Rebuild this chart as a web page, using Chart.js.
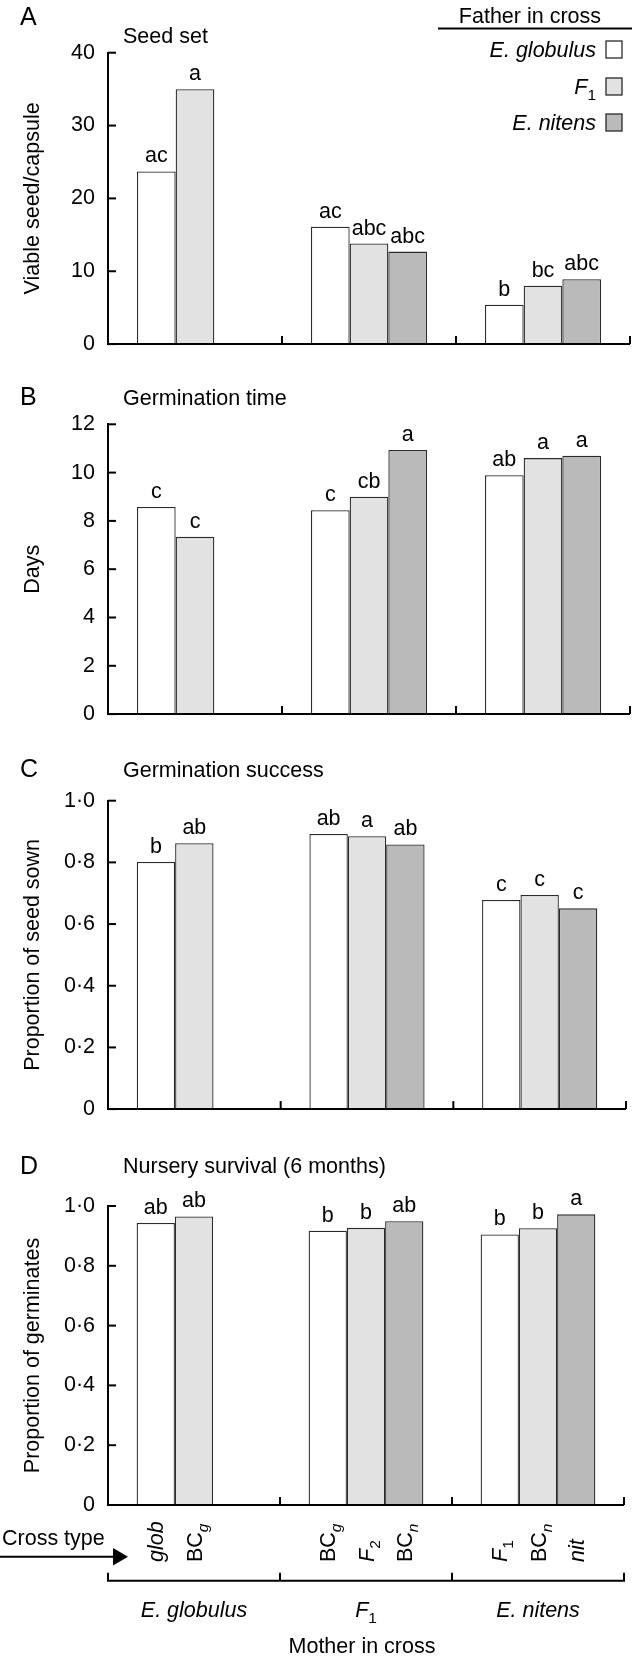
<!DOCTYPE html>
<html><head><meta charset="utf-8">
<script src="https://cdn.jsdelivr.net/npm/chart.js@4"></script>
<style>
html,body{margin:0;padding:0;background:#fff;}
#wrap{position:relative;width:633px;height:1660px;overflow:hidden;}
canvas{position:absolute;left:0;}
</style></head><body>
<div id="wrap">
<canvas id="cA" width="633" height="370" style="top:0px;width:633px;height:370px"></canvas>
<canvas id="cB" width="633" height="370" style="top:370px;width:633px;height:370px"></canvas>
<canvas id="cC" width="633" height="395" style="top:740px;width:633px;height:395px"></canvas>
<canvas id="cD" width="633" height="525" style="top:1135px;width:633px;height:525px"></canvas>
</div>
<script>
// ---------- DATA ----------
const motherLabels = ['E. globulus', 'F1', 'E. nitens'];
const fatherLabels = ['E. globulus', 'F1', 'E. nitens'];

// A: seed set (viable seed / capsule)
const seedSetGlob = [23.7, 16.1, 5.4];
const seedSetF1   = [35.0, 13.8, 8.0];
const seedSetNit  = [null, 12.7, 8.9];
const seedSetLetGlob = ['ac', 'ac', 'b'];
const seedSetLetF1   = ['a', 'abc', 'bc'];
const seedSetLetNit  = [null, 'abc', 'abc'];

// B: germination time (days)
const germTimeGlob = [8.58, 8.44, 9.89];
const germTimeF1   = [7.34, 9.0, 10.6];
const germTimeNit  = [null, 10.94, 10.7];
const germTimeLetGlob = ['c', 'c', 'ab'];
const germTimeLetF1   = ['c', 'cb', 'a'];
const germTimeLetNit  = [null, 'a', 'a'];

// C: germination success (proportion of seed sown)
const germSuccGlob = [0.801, 0.892, 0.678];
const germSuccF1   = [0.862, 0.885, 0.694];
const germSuccNit  = [null, 0.858, 0.651];
const germSuccLetGlob = ['b', 'ab', 'c'];
const germSuccLetF1   = ['ab', 'a', 'c'];
const germSuccLetNit  = [null, 'ab', 'c'];

// D: nursery survival (proportion of germinates)
const survGlob = [0.943, 0.917, 0.905];
const survF1   = [0.965, 0.927, 0.926];
const survNit  = [null, 0.949, 0.972];
const survLetGlob = ['ab', 'b', 'b'];
const survLetF1   = ['ab', 'b', 'b'];
const survLetNit  = [null, 'ab', 'a'];

// Cross-type tick labels (segments: [text, style]; i = italic, s = subscript)
const crossGlobFather = [[['glob','i']], [['BC',''],['g','is']], [['F','i'],['1','s']]];
const crossF1Father   = [[['BC',''],['g','is']], [['F','i'],['2','s']], [['BC',''],['n','is']]];
const crossNitFather  = [null, [['BC',''],['n','is']], [['nit','i']]];
const motherTickLabels = [[['E. globulus','i']], [['F','i'],['1','s']], [['E. nitens','i']]];
const legendLabels = [[['E. globulus','i']], [['F','i'],['1','s']], [['E. nitens','i']]];

const yTicksA = [0, 40, 10];
const yTicksB = [0, 12, 2];
const yTicksC = [0, 1, 0.2];
const yTicksD = [0, 1, 0.2];

// ---------- STYLE ----------
const FAM = "'Liberation Sans', Arial, Helvetica, sans-serif";
const FS = 21.5;
const fills = ['#ffffff', '#e2e2e2', '#bababa'];
const edge = '#2a2a2a';
function font(sz, it) { return (it ? 'italic ' : '') + sz + 'px ' + FAM; }

function richParts(ctx, segs, size) {
  return segs.map(([t, st]) => {
    const it = st.includes('i'), sub = st.includes('s');
    const sz = sub ? size * 0.72 : size;
    ctx.font = font(sz, it);
    return { t, it, sub, sz, w: ctx.measureText(t).width };
  });
}
function drawRich(ctx, segs, x, y, size, align) {
  const parts = richParts(ctx, segs, size);
  const total = parts.reduce((a, p) => a + p.w, 0);
  let cx = align === 'right' ? x - total : align === 'center' ? x - total / 2 : x;
  ctx.textAlign = 'left';
  ctx.textBaseline = 'alphabetic';
  for (const p of parts) {
    ctx.font = font(p.sz, p.it);
    ctx.fillText(p.t, cx, y + (p.sub ? size * 0.27 : 0));
    cx += p.w;
  }
}
function line(ctx, x1, y1, x2, y2) { ctx.beginPath(); ctx.moveTo(x1, y1); ctx.lineTo(x2, y2); ctx.stroke(); }

function decoPlugin(cfg) {
  return {
    id: 'deco' + cfg.letter,
    afterDatasetsDraw(chart) {
      const ctx = chart.ctx, ca = chart.chartArea;
      const xs = chart.scales.x, ys = chart.scales.y;
      ctx.save();
      ctx.strokeStyle = '#000'; ctx.fillStyle = '#000'; ctx.lineWidth = 2;
      // baseline
      line(ctx, ca.left - 1, ca.bottom, ca.right, ca.bottom);
      // category boundary ticks (upward)
      const n = chart.data.labels.length, w = (xs.right - xs.left) / n;
      for (let i = 1; i <= n; i++) { const x = xs.left + i * w; line(ctx, x, ca.bottom, x, ca.bottom - 8); }
      // y ticks (inward)
      ys.ticks.forEach(t => { const y = ys.getPixelForValue(t.value); line(ctx, ca.left, y, ca.left + 8, y); });
      // letters above bars
      ctx.font = font(FS, false); ctx.textAlign = 'center'; ctx.textBaseline = 'alphabetic';
      chart.data.datasets.forEach((ds, di) => {
        const meta = chart.getDatasetMeta(di);
        meta.data.forEach((el, i) => {
          const s = cfg.letters[di][i];
          if (s && ds.data[i] != null) ctx.fillText(s, el.x, el.y - 9);
        });
      });
      // panel letter & title
      ctx.textAlign = 'left';
      ctx.font = font(25, false); ctx.fillText(cfg.letter, 20, cfg.letterY);
      ctx.font = font(FS, false); ctx.fillText(cfg.title, 123, cfg.titleY);
      if (cfg.extra) cfg.extra(chart, ctx);
      ctx.restore();
    }
  };
}

function legendExtra(chart, ctx) {
  ctx.fillStyle = '#000';
  ctx.font = font(FS, false); ctx.textAlign = 'right'; ctx.textBaseline = 'alphabetic';
  ctx.fillText('Father in cross', 601, 23);
  ctx.lineWidth = 2; line(ctx, 438, 28.5, 632, 28.5);
  const tops = [41, 78, 114];
  chart.data.datasets.forEach((ds, i) => {
    const top = tops[i];
    ctx.fillStyle = ds.backgroundColor; ctx.fillRect(606, top, 16, 17);
    ctx.strokeStyle = edge; ctx.lineWidth = 1.3; ctx.strokeRect(606, top, 16, 17);
    ctx.fillStyle = '#000';
    drawRich(ctx, legendLabels[i], 596, top + 16, FS, 'right');
  });
}

function bottomExtra(chart, ctx) {
  const ca = chart.chartArea, xs = chart.scales.x;
  ctx.fillStyle = '#000'; ctx.strokeStyle = '#000';
  // cross type arrow
  ctx.font = font(FS, false); ctx.textAlign = 'left'; ctx.textBaseline = 'alphabetic';
  ctx.fillText('Cross type', 2, 410);
  ctx.lineWidth = 2; line(ctx, 0, 421.7, 114, 421.7);
  ctx.beginPath(); ctx.moveTo(128, 421.7); ctx.lineTo(113, 413); ctx.lineTo(113, 430.4); ctx.closePath(); ctx.fill();
  // rotated cross type labels under each bar
  const crosses = [crossGlobFather, crossF1Father, crossNitFather];
  chart.data.datasets.forEach((ds, di) => {
    const meta = chart.getDatasetMeta(di);
    meta.data.forEach((el, i) => {
      const segs = crosses[di][i];
      if (!segs) return;
      ctx.save();
      ctx.translate(el.x, 427);
      ctx.rotate(-Math.PI / 2);
      drawRich(ctx, segs, 0, FS * 0.36, FS, 'left');
      ctx.restore();
    });
  });
  // bracket
  ctx.lineWidth = 2;
  const by = 445.7;
  line(ctx, ca.left - 1, by, ca.right + 1, by);
  const n = chart.data.labels.length, w = (xs.right - xs.left) / n;
  for (let i = 0; i <= n; i++) { const x = xs.left + i * w; line(ctx, x, by, x, by - 8); }
  // mother labels
  for (let i = 0; i < n; i++) {
    const cx = xs.getPixelForValue(i);
    drawRich(ctx, motherTickLabels[i], cx, 482, FS, 'center');
  }
  ctx.font = font(FS, false); ctx.textAlign = 'center';
  ctx.fillText('Mother in cross', 362, 518);
}

function fmtDec(v) { return v === 0 ? '0' : v.toFixed(1).replace('.', '\u00B7'); }
function fmtInt(v) { return String(v); }

function makePanel(id, cfg) {
  const vals = cfg.values;
  return new Chart(document.getElementById(id), {
    type: 'bar',
    data: {
      labels: motherLabels,
      datasets: fatherLabels.map((lab, i) => ({
        label: lab, data: vals[i], backgroundColor: fills[i], borderColor: edge, borderWidth: 1.3,
        categoryPercentage: 0.667, barPercentage: 1.0
      }))
    },
    options: {
      responsive: false, animation: false,
      layout: { padding: { left: 0, right: cfg.padRight, top: cfg.padTop, bottom: cfg.padBottom } },
      plugins: { legend: { display: false }, tooltip: { enabled: false } },
      scales: {
        x: { display: false },
        y: {
          min: cfg.ticks[0], max: cfg.ticks[1],
          ticks: { stepSize: cfg.ticks[2], padding: 13, color: '#000', font: { family: FAM, size: FS }, callback: cfg.fmt },
          grid: { display: false, drawTicks: false },
          border: { display: true, color: '#000', width: 2 },
          title: { display: true, text: cfg.yTitle, color: '#000', font: { family: FAM, size: FS }, padding: { top: 20, bottom: 0 } },
          afterFit: s => { s.width = 108; }
        }
      }
    },
    plugins: [decoPlugin(cfg)]
  });
}

makePanel('cA', { letter: 'A', title: 'Seed set', letterY: 25, titleY: 43.3, yTitle: 'Viable seed/capsule',
  values: [seedSetGlob, seedSetF1, seedSetNit], letters: [seedSetLetGlob, seedSetLetF1, seedSetLetNit],
  ticks: yTicksA, fmt: fmtInt, padTop: 52.7, padBottom: 19, padRight: 3, extra: legendExtra });
makePanel('cB', { letter: 'B', title: 'Germination time', letterY: 35, titleY: 35, yTitle: 'Days',
  values: [germTimeGlob, germTimeF1, germTimeNit], letters: [germTimeLetGlob, germTimeLetF1, germTimeLetNit],
  ticks: yTicksB, fmt: fmtInt, padTop: 54.3, padBottom: 16.6, padRight: 3 });
makePanel('cC', { letter: 'C', title: 'Germination success', letterY: 37, titleY: 37, yTitle: 'Proportion of seed sown',
  values: [germSuccGlob, germSuccF1, germSuccNit], letters: [germSuccLetGlob, germSuccLetF1, germSuccLetNit],
  ticks: yTicksC, fmt: fmtDec, padTop: 60.7, padBottom: 18, padRight: 7 });
makePanel('cD', { letter: 'D', title: 'Nursery survival (6 months)', letterY: 39, titleY: 38, yTitle: 'Proportion of germinates',
  values: [survGlob, survF1, survNit], letters: [survLetGlob, survLetF1, survLetNit],
  ticks: yTicksD, fmt: fmtDec, padTop: 71, padBottom: 155, padRight: 9, extra: bottomExtra });
</script>
</body></html>
